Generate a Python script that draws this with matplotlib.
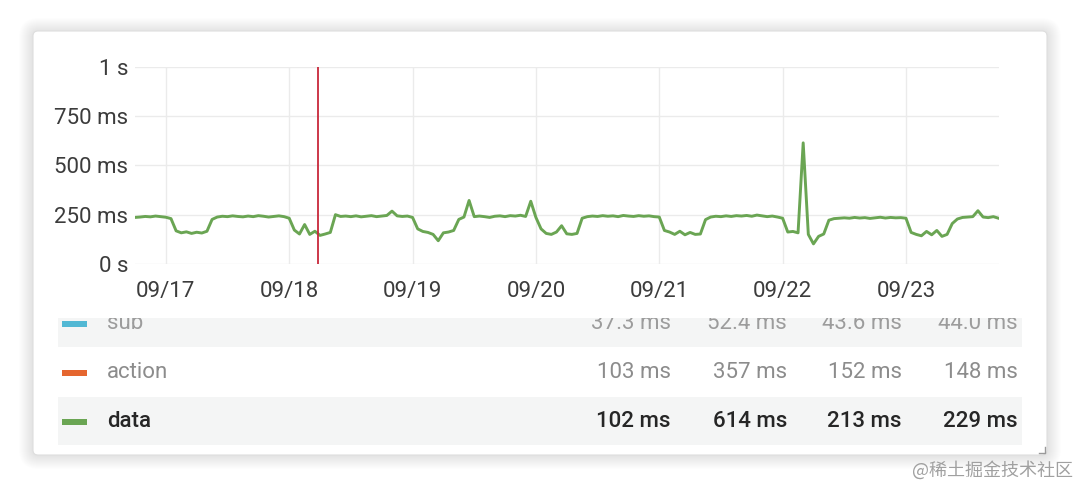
import matplotlib
matplotlib.use('Agg')
import matplotlib.pyplot as plt
import matplotlib.dates as mdates
from matplotlib.patches import FancyBboxPatch, Rectangle
import pandas as pd

plt.rcParams['font.family'] = ['Roboto', 'DejaVu Sans']

# hourly latency of the "data" series in ms, from 09/16 18:00 to 09/23 18:00
data_ms = [
    236, 238, 241, 239, 243, 240,                                    # 09/16 18h-23h
    237, 230, 168, 158, 163, 155, 161, 157, 166, 226, 238, 242,      # 09/17
    240, 244, 241, 239, 243, 240, 245, 242, 238, 241, 244, 240,
    232, 172, 152, 200, 150, 166, 145, 152, 160, 250, 241, 243,      # 09/18
    240, 244, 239, 242, 245, 240, 243, 246, 268, 244, 241, 243,
    236, 178, 165, 160, 150, 118, 158, 162, 170, 226, 238, 322,      # 09/19
    240, 243, 240, 236, 242, 244, 240, 245, 243, 247, 241, 318,
    236, 178, 155, 150, 162, 194, 153, 150, 155, 232, 240, 243,      # 09/20
    241, 245, 242, 244, 240, 246, 243, 241, 245, 242, 244, 240,
    238, 170, 162, 150, 166, 148, 160, 150, 152, 225, 238, 242,      # 09/21
    240, 244, 241, 245, 243, 246, 242, 248, 244, 240, 243, 238,
    232, 162, 165, 158, 614, 150, 102, 140, 152, 222, 230, 232,      # 09/22
    234, 232, 236, 233, 235, 231, 234, 237, 233, 236, 234, 235,
    232, 160, 150, 143, 165, 148, 170, 140, 150, 205, 228, 236,      # 09/23
    238, 240, 270, 238, 235, 240, 232,
]
start_time = '2023-09-16 18:00'
marker_time = '2023-09-18 05:40'

y_ticks = [0, 250, 500, 750, 1000]
y_labels = ['0 s', '250 ms', '500 ms', '750 ms', '1 s']

series_names = ['sub', 'action', 'data']
series_colors = ['#52b8d4', '#e5662f', '#6aa553']
sub_stats = ['37.3 ms', '52.4 ms', '43.6 ms', '44.0 ms']
action_stats = ['103 ms', '357 ms', '152 ms', '148 ms']
data_stats = ['102 ms', '614 ms', '213 ms', '229 ms']
all_stats = [sub_stats, action_stats, data_stats]

times = pd.date_range(start_time, periods=len(data_ms), freq='h')

W, H = 1080, 486
fig = plt.figure(figsize=(W / 100, H / 100), dpi=100, facecolor='white')

# background layer: card with soft shadow
bg = fig.add_axes([0, 0, 1, 1], zorder=0)
bg.set_xlim(0, W)
bg.set_ylim(H, 0)
bg.axis('off')
for r in range(14, 0, -1):
    bg.add_patch(FancyBboxPatch((33 - r, 32 - r), 1014 + 2 * r, 423 + 2 * r,
                                boxstyle=f'round,pad=0,rounding_size={6 + r}',
                                fc='black', ec='none', alpha=0.007))
bg.add_patch(FancyBboxPatch((33, 31), 1014, 424, boxstyle='round,pad=0,rounding_size=5',
                            fc='white', ec='#dedede', lw=0.8))
bg.plot([1045, 1045, 1039], [447, 453, 453], color='#9a9a9a', lw=1)
bg.text(1073, 470, '@稀土掘金技术社区', ha='right', va='center', fontsize=13,
        color='#a0a0a0', family=['Noto Sans CJK SC', 'DejaVu Sans'])

# time series
ax = fig.add_axes([135 / W, 1 - 264 / H, (998.5 - 135) / W, (264 - 66.7) / H], zorder=2)
ax.set_facecolor('none')
ax.plot(times, data_ms, color=series_colors[2], lw=2.1, solid_joinstyle='round')
ax.axvline(pd.Timestamp(marker_time), color='#c8283a', lw=1.3)
ax.set_xlim(times[0], times[-1])
ax.set_ylim(0, 1000)
ax.set_yticks(y_ticks, y_labels)
ax.xaxis.set_major_locator(mdates.DayLocator())
ax.xaxis.set_major_formatter(mdates.DateFormatter('%m/%d'))
ax.grid(color='#ebebeb', lw=1)
ax.set_axisbelow(True)
for s in ax.spines.values():
    s.set_visible(False)
ax.tick_params(axis='both', length=0, labelsize=16, colors='#3c3c3c')
ax.tick_params(axis='x', pad=12)
ax.tick_params(axis='y', pad=5)

# legend table (scrolled, top row clipped)
lg = fig.add_axes([33 / W, 1 - 455 / H, 1015 / W, (455 - 318) / H], zorder=3)
lg.set_xlim(33, 1048)
lg.set_ylim(455, 318)
lg.axis('off')
baselines = [329, 378, 427]
text_colors = ['#9c9c9c', '#8c8c8c', '#262626']
weights = ['normal', 'normal', 'medium']
value_right = [671, 787, 902, 1018]
for i, name in enumerate(series_names):
    b = baselines[i]
    if i % 2 == 0:
        lg.add_patch(Rectangle((58, b - 30), 964, 48, fc='#f4f5f5', ec='none'))
    lg.add_patch(Rectangle((62, b - 8), 25, 6, fc=series_colors[i], ec='none'))
    lg.text(107, b, name, ha='left', va='baseline', fontsize=16,
            color=text_colors[i], fontweight=weights[i], clip_on=True)
    for xr, val in zip(value_right, all_stats[i]):
        lg.text(xr, b, val, ha='right', va='baseline', fontsize=16,
                color=text_colors[i], fontweight=weights[i], clip_on=True)

fig.savefig('out.png', dpi=100, facecolor='white')
